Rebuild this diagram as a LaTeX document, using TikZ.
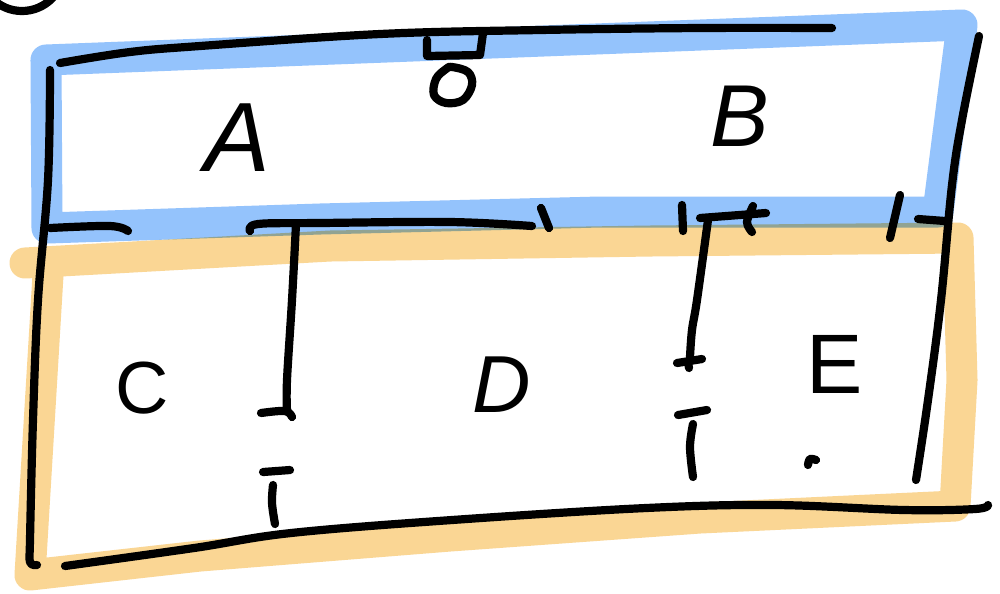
\documentclass[tikz,border=0pt]{standalone}
\usepackage{fontspec}
\setmainfont{Liberation Sans}
\definecolor{hlblue}{RGB}{148,195,252}
\definecolor{hlorange}{RGB}{250,214,148}
\tikzset{
  marker/.style={line width=0.31cm, line join=round, line cap=round},
  ink/.style={line width=0.082cm, line join=round, line cap=round, black},
  lbl/.style={inner sep=0pt, font=#1},
}
\begin{document}
\begin{tikzpicture}[x=0.01cm, y=-0.01cm]
\useasboundingbox (0,0) rectangle (1000,593);
\fill[white] (0,0) rectangle (1000,593);

% highlighter bands: lower room (orange) and upper room (blue)
\begin{scope}[blend mode=multiply]
  \draw[marker, hlorange] (25,263) -- (330,246) -- (650,241) -- (958,238)
     -- (962,380) -- (955,506) -- (700,518) -- (450,536) -- (200,556)
     -- (30,575) -- (48,275);
  \draw[marker, hlblue] (47,228) -- (46,60) -- (962,25) -- (938,212)
     -- (600,212) -- (320,219) -- cycle;
\end{scope}

% outer walls
\draw[ink] plot[smooth, tension=0.6] coordinates
  {(60,63) (130,52) (200,46) (380,34) (540,30) (700,28) (832,28)};
\draw[ink] plot[smooth, tension=0.6] coordinates
  {(50,70) (48,180) (38,300) (33,420) (30,540) (30,562) (37,565)};
\draw[ink] plot[smooth, tension=0.6] coordinates
  {(65,566) (194,548) (291,533) (452,520) (646,508) (775,505) (904,510) (975,509) (988,505)};
\draw[ink] plot[smooth, tension=0.6] coordinates
  {(979,36) (962,120) (952,185) (941,300) (928,400) (916,480)};

% wall between the two rooms
\draw[ink] plot[smooth, tension=0.6] coordinates {(50,228) (110,226) (128,231)};
\draw[ink] plot[smooth, tension=0.6] coordinates {(250,231) (258,224) (320,223) (450,222) (532,226)};
\draw[ink] (541,208) -- (549,228);
\draw[ink] (682,205) -- (683,231);
\draw[ink] (700,218) -- (766,213);
\draw[ink] plot[smooth, tension=0.6] coordinates {(753,206) (747,222) (752,232)};
\draw[ink] (900,195) -- (890,238);
\draw[ink] (918,219) -- (945,221);

% partitions in the lower room
\draw[ink] plot[smooth, tension=0.6] coordinates {(296,224) (292,300) (287,380) (287,410)};
\draw[ink] plot[smooth, tension=0.6] coordinates {(261,413) (285,411) (292,417)};
\draw[ink] (263,472) -- (290,470);
\draw[ink] plot[smooth, tension=0.6] coordinates {(273,485) (272,503) (275,524)};
\draw[ink] plot[smooth, tension=0.6] coordinates {(708,220) (697,300) (692,330) (690,357)};
\draw[ink] (677,363) -- (702,359);
\draw[ink] (688,362) -- (689,368);
\draw[ink] (678,415) -- (707,410);
\draw[ink] plot[smooth, tension=0.6] coordinates {(693,424) (690,447) (693,477)};
\draw[ink] plot[smooth, tension=0.6] coordinates {(808,465) (810,459) (816,460)};

% fitting hanging from the top wall
\draw[ink] (427,40) -- (427,56) -- (480,55) -- (483,33);
\draw[ink] plot[smooth cycle, tension=0.6] coordinates
  {(452,67) (468,72) (472,85) (463,100) (446,103) (434,95) (436,79) (446,69)};

% circle cut off at the corner
\draw[ink] (22,-31) circle[radius=42];

% room labels
\node[lbl={\fontsize{28}{28}\selectfont\itshape}] (roomA) at (237,138) {A};
\node[lbl={\fontsize{25}{25}\selectfont\itshape}] (roomB) at (740,116) {B};
\node[lbl={\fontsize{21}{21}\selectfont}] (roomC) at (142,388) {C};
\node[lbl={\fontsize{23}{23}\selectfont\itshape}] (roomD) at (502,385) {D};
\node[lbl={\fontsize{24}{24}\selectfont}] (roomE) at (835,364) {E};
\end{tikzpicture}
\end{document}
